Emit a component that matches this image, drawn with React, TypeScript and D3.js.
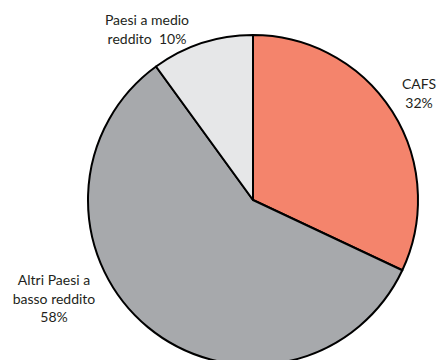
import React from "react";
import * as d3 from "d3";

const categories = ["CAFS", "Altri Paesi a basso reddito", "Paesi a medio reddito"];
const values = [32, 58, 10];
const colors = ["#F4846C", "#A7A9AC", "#E6E7E8"];
const labelLines = [["CAFS", "32%"], ["Altri Paesi a", "basso reddito", "58%"], ["Paesi a medio", "reddito  10%"]];
const labelPos: [number, number][] = [[419, 89], [54, 285], [147, 25]];

export default function App() {
  const W = 439, H = 360;
  const cx = 253, cy = 200, r = 165;
  const pie = d3.pie<number>().sort(null).value((d) => d);
  const arcs = pie(values);
  const arc = d3.arc<d3.PieArcDatum<number>>().innerRadius(0).outerRadius(r);
  return (
    <svg width={W} height={H} style={{ position: "absolute", left: 0, top: 0, background: "#fff" }}>
      <text x={364} y={-3} fontFamily="Lato" fontWeight="bold" fontSize={16} fill="#231F20" textAnchor="middle">p</text>
      <g transform={`translate(${cx},${cy})`}>
        {arcs.map((a, i) => (
          <path key={categories[i]} d={arc(a) || ""} fill={colors[i]} stroke="#000" strokeWidth={2} strokeLinejoin="round" />
        ))}
      </g>
      {labelLines.map((lines, i) => (
        <text key={i} fontFamily="Lato" fontSize={14} fill="#231F20" textAnchor="middle">
          {lines.map((l, j) => (
            <tspan key={j} x={labelPos[i][0]} y={labelPos[i][1] + j * 18.5} style={{ whiteSpace: "pre" }}>{l}</tspan>
          ))}
        </text>
      ))}
    </svg>
  );
}
